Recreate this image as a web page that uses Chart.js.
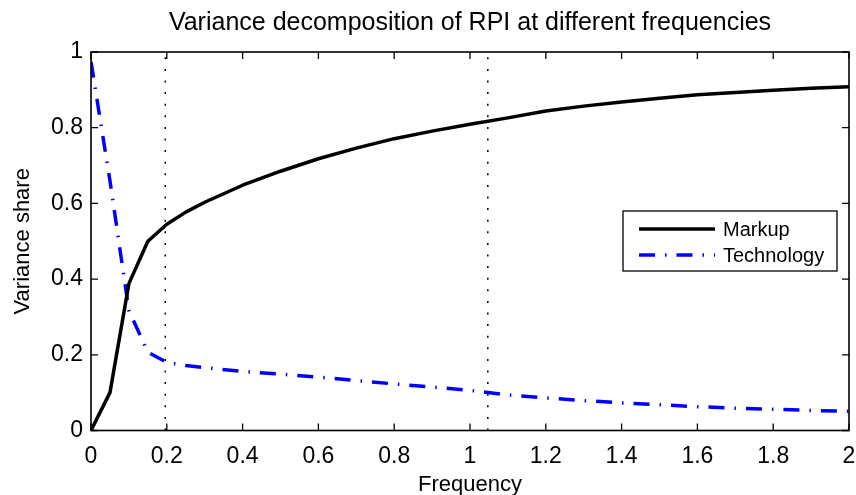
<!DOCTYPE html>
<html>
<head>
<meta charset="utf-8">
<script src="https://cdn.jsdelivr.net/npm/chart.js@4.4.1/dist/chart.umd.min.js"></script>
<style>
  html, body { margin: 0; padding: 0; background: #fff; }
  #wrap { width: 856px; height: 495px; }
</style>
</head>
<body>
<div id="wrap"><canvas id="varChart" width="856" height="495"></canvas></div>
<script>
// data
const freq = [0, 0.05, 0.1, 0.15, 0.2, 0.25, 0.3, 0.4, 0.5, 0.6, 0.7, 0.8, 0.9, 1.0,
              1.1, 1.2, 1.3, 1.4, 1.5, 1.6, 1.7, 1.8, 1.9, 2.0];
const markup = [0, 0.10, 0.388, 0.50, 0.545, 0.577, 0.603, 0.648, 0.685, 0.718, 0.746, 0.771,
                0.791, 0.809, 0.826, 0.844, 0.857, 0.868, 0.878, 0.887, 0.893, 0.899, 0.904, 0.908];
const technology = [0.974, 0.66, 0.317, 0.207, 0.180, 0.172, 0.166, 0.156, 0.149, 0.141, 0.132, 0.123,
                    0.115, 0.106, 0.094, 0.086, 0.079, 0.073, 0.068, 0.063, 0.059, 0.056, 0.053, 0.051];
// business-cycle band edges (2*pi/32 and 2*pi/6)
const bandEdges = [0.196, 1.047];
const xTicks = [0, 0.2, 0.4, 0.6, 0.8, 1, 1.2, 1.4, 1.6, 1.8, 2];
const yTicks = [0, 0.2, 0.4, 0.6, 0.8, 1];

const FONT = 'Liberation Sans, Arial, Helvetica, sans-serif';
const BLUE = '#0000ff';
const TECH_DASH = [16, 10, 1.5, 10];

const toPoints = (ys) => freq.map((f, i) => ({ x: f, y: ys[i] }));

const bandSets = bandEdges.map((f) => ({
    label: 'band',
    data: [{ x: f, y: 0 }, { x: f, y: 1 }],
    borderColor: '#000',
    borderWidth: 1.5,
    borderDash: [2, 9.6],
    pointRadius: 0,
    order: 5
}));

// MATLAB-style box, inward ticks, title and legend
const matlabFrame = {
    id: 'matlabFrame',
    afterDraw(chart) {
        const { ctx, chartArea: a, scales } = chart;
        const tl = 7;
        ctx.save();
        ctx.strokeStyle = '#000';
        ctx.lineWidth = 1.3;
        ctx.beginPath();
        xTicks.forEach((v) => {
            const px = scales.x.getPixelForValue(v);
            ctx.moveTo(px, a.bottom); ctx.lineTo(px, a.bottom - tl);
            ctx.moveTo(px, a.top); ctx.lineTo(px, a.top + tl);
        });
        yTicks.forEach((v) => {
            const py = scales.y.getPixelForValue(v);
            ctx.moveTo(a.left, py); ctx.lineTo(a.left + tl, py);
            ctx.moveTo(a.right, py); ctx.lineTo(a.right - tl, py);
        });
        ctx.stroke();
        ctx.lineWidth = 1.6;
        ctx.strokeRect(a.left, a.top, a.right - a.left, a.bottom - a.top);

        // title
        ctx.fillStyle = '#000';
        ctx.font = '25px ' + FONT;
        ctx.textAlign = 'center';
        ctx.textBaseline = 'alphabetic';
        ctx.fillText('Variance decomposition of RPI at different frequencies', (a.left + a.right) / 2, 30);

        // legend
        const bx = 623, by = 211, bw = 214, bh = 60;
        ctx.fillStyle = '#fff';
        ctx.fillRect(bx, by, bw, bh);
        ctx.lineWidth = 1.3;
        ctx.strokeRect(bx, by, bw, bh);
        const rows = [
            { text: 'Markup', color: '#000', dash: [], y: by + 18 },
            { text: 'Technology', color: BLUE, dash: TECH_DASH, y: by + 44 }
        ];
        rows.forEach((r) => {
            ctx.beginPath();
            ctx.strokeStyle = r.color;
            ctx.lineWidth = 3.5;
            ctx.setLineDash(r.dash);
            ctx.moveTo(bx + 16, r.y);
            ctx.lineTo(bx + 92, r.y);
            ctx.stroke();
            ctx.setLineDash([]);
            ctx.fillStyle = '#000';
            ctx.font = '20px ' + FONT;
            ctx.textAlign = 'left';
            ctx.textBaseline = 'middle';
            ctx.fillText(r.text, bx + 100, r.y + 1);
        });
        ctx.restore();
    }
};

new Chart(document.getElementById('varChart').getContext('2d'), {
    type: 'line',
    data: {
        datasets: [
            {
                label: 'Markup',
                data: toPoints(markup),
                borderColor: '#000',
                borderWidth: 3.5,
                borderJoinStyle: 'round',
                pointRadius: 0,
                tension: 0,
                order: 1
            },
            {
                label: 'Technology',
                data: toPoints(technology),
                borderColor: BLUE,
                borderWidth: 3.5,
                borderDash: TECH_DASH,
                pointRadius: 0,
                tension: 0,
                order: 2
            },
            ...bandSets
        ]
    },
    options: {
        responsive: false,
        animation: false,
        layout: { padding: { left: 0, right: 0, top: 52, bottom: 0 } },
        plugins: {
            legend: { display: false },
            tooltip: { enabled: false },
            title: { display: false }
        },
        scales: {
            x: {
                type: 'linear',
                min: 0,
                max: 2,
                afterBuildTicks: (s) => { s.ticks = xTicks.map((v) => ({ value: v })); },
                afterFit: (s) => {
                    s.height = 64.5;
                    s.paddingLeft = 0;
                    s.paddingRight = 7;
                },
                grid: { display: false, drawTicks: false },
                border: { display: false },
                ticks: {
                    color: '#000',
                    padding: 12,
                    maxRotation: 0,
                    font: { family: FONT, size: 23 },
                    callback: (v) => String(v)
                },
                title: {
                    display: true,
                    text: 'Frequency',
                    color: '#000',
                    font: { family: FONT, size: 22 },
                    padding: { top: 0, bottom: -3 }
                }
            },
            y: {
                min: 0,
                max: 1,
                afterBuildTicks: (s) => { s.ticks = yTicks.map((v) => ({ value: v })); },
                afterFit: (s) => { s.width = 91; },
                grid: { display: false, drawTicks: false },
                border: { display: false },
                ticks: {
                    color: '#000',
                    padding: 8,
                    font: { family: FONT, size: 23 },
                    callback: (v) => String(v)
                },
                title: {
                    display: true,
                    text: 'Variance share',
                    color: '#000',
                    font: { family: FONT, size: 22 },
                    padding: { top: 10, bottom: 8 }
                }
            }
        }
    },
    plugins: [matlabFrame]
});
</script>
</body>
</html>
